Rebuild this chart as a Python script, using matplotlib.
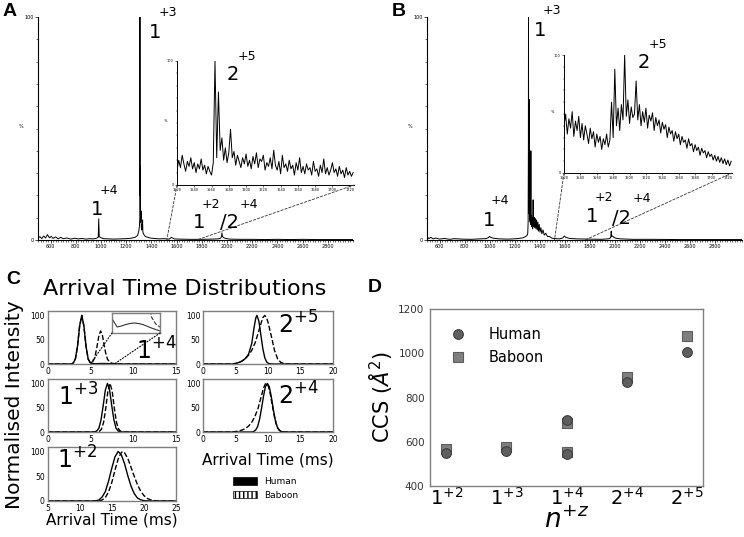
import numpy as np
import matplotlib
matplotlib.use('Agg')
import matplotlib.pyplot as plt
from matplotlib.patches import ConnectionPatch, Patch
from matplotlib.ticker import MultipleLocator

W, H = 744, 537

# --- A / B: mass spectra, (m/z, % intensity)
human_spec = [
    (500, 0.8), (515, 1.5), (530, 0.6), (545, 1.8), (560, 0.9), (575, 2.4), (590, 1.0),
    (605, 1.6), (620, 0.7), (640, 1.4), (660, 0.5), (680, 1.2), (700, 0.6), (730, 0.9),
    (760, 0.4), (790, 0.8), (820, 0.5), (850, 0.7), (880, 0.4), (910, 0.6), (940, 0.5),
    (965, 0.8), (978, 1.2), (982, 9.5), (986, 1.5), (1000, 1.0), (1020, 0.6), (1060, 0.5),
    (1100, 0.4), (1150, 0.5), (1200, 0.6), (1240, 0.8), (1270, 1.2), (1290, 2.0),
    (1300, 4.0), (1305, 6.0), (1308, 10.0), (1309, 100.0), (1310, 35.0), (1311, 20.0),
    (1312, 33.0), (1313, 15.0), (1314, 8.0), (1316, 10.0), (1318, 13.0), (1320, 6.0),
    (1323, 4.5), (1326, 7.0), (1328, 5.0), (1330, 9.0), (1332, 4.0), (1335, 3.0),
    (1340, 2.5), (1345, 2.0), (1355, 1.5), (1370, 1.2), (1390, 0.9), (1420, 0.7),
    (1460, 0.5), (1500, 0.6), (1540, 0.4), (1560, 1.2), (1580, 0.5), (1620, 0.4),
    (1700, 0.3), (1800, 0.3), (1880, 0.4), (1930, 0.5), (1950, 0.8), (1956, 1.5),
    (1960, 3.2), (1964, 1.6), (1975, 1.0), (1990, 0.7), (2020, 0.4), (2100, 0.3),
    (2200, 0.3), (2300, 0.2), (2400, 0.3), (2500, 0.2), (2600, 0.3), (2700, 0.2),
    (2800, 0.2), (2900, 0.2), (3000, 0.2),
]
baboon_spec = [
    (500, 1.5), (515, 0.6), (530, 1.2), (550, 0.5), (570, 0.9), (600, 0.4), (640, 0.7),
    (680, 0.3), (720, 0.6), (780, 0.4), (850, 0.3), (920, 0.5), (970, 0.6), (990, 1.0),
    (1000, 1.6), (1010, 1.2), (1030, 0.8), (1080, 0.5), (1150, 0.4), (1220, 0.6),
    (1270, 1.0), (1300, 2.0), (1306, 3.0), (1309, 8.0), (1311, 40.0), (1312, 100.0),
    (1313, 30.0), (1315, 12.0), (1317, 63.0), (1319, 14.0), (1321, 9.0), (1323, 12.0),
    (1325, 8.0), (1327, 11.0), (1329, 7.0), (1331, 40.0), (1333, 8.0), (1335, 11.0),
    (1337, 6.0), (1339, 10.0), (1341, 6.0), (1343, 9.0), (1345, 5.0), (1347, 8.0),
    (1349, 18.0), (1351, 6.0), (1354, 10.0), (1357, 6.0), (1360, 10.0), (1364, 5.5),
    (1368, 9.5), (1372, 5.0), (1377, 9.0), (1382, 4.5), (1387, 8.0), (1392, 4.0),
    (1398, 7.0), (1404, 3.5), (1411, 5.5), (1419, 2.8), (1428, 4.5), (1438, 2.2),
    (1450, 3.0), (1465, 1.5), (1480, 1.6), (1500, 0.8), (1530, 0.6), (1560, 0.5),
    (1585, 0.9), (1600, 1.8), (1610, 1.2), (1640, 0.7), (1700, 0.5), (1800, 0.4),
    (1900, 0.3), (1960, 0.6), (1970, 1.2), (1974, 4.0), (1977, 1.5), (1985, 1.8),
    (1995, 1.2), (2010, 0.8), (2050, 0.5), (2150, 0.3), (2300, 0.3), (2500, 0.2),
    (2700, 0.2), (2900, 0.2), (3020, 0.2),
]

# zoomed 2+5 region, one value every 2 m/z from 1520
inset_start, inset_step = 1520, 2
human_inset = [
    12, 20, 14, 24, 17, 11, 19, 15, 22, 13, 18,
    10, 17, 13, 21, 12, 16, 9, 15, 11, 8, 18,
    100, 22, 75, 28, 38, 20, 30, 18, 26, 45, 22,
    27, 16, 24, 19, 14, 22, 17, 25, 15, 20, 13,
    23, 17, 26, 14, 21, 19, 24, 12, 18, 15, 22,
    13, 28, 16, 12, 19, 9, 24, 14, 17, 11, 20,
    13, 16, 8, 18, 12, 22, 10, 15, 9, 17, 12,
    14, 8, 19, 11, 13, 7, 16, 10, 21, 9, 14,
    8, 12, 18, 10, 13, 7, 15, 9, 12, 6, 14,
    8, 11, 7, 10,
]
baboon_inset = [
    40, 50, 33, 46, 38, 52, 31, 44, 36, 48, 30,
    42, 28, 40, 33, 25, 38, 29, 35, 22, 33, 26,
    31, 20, 29, 24, 33, 22, 28,
    60, 30, 88, 40, 55, 36, 58, 45, 100, 48, 62, 42, 56, 47, 50, 78, 45, 58,
    40, 52, 43, 55, 38, 49, 44, 51, 36, 47, 40,
    45, 34, 43, 37, 41, 30, 39, 33, 36, 27, 35,
    29, 33, 24, 31, 26, 28, 21, 29, 23, 25, 18,
    24, 19, 22, 15, 21, 17, 19, 13, 18, 14, 16,
    11, 15, 10, 14, 9, 13, 8, 12, 7, 11, 6, 10,
]

# --- C: arrival time distributions, (ms, normalised intensity)
atd_1p4_human = [(0, 0), (2.8, 0), (3.0, 2), (3.25, 10), (3.5, 36), (3.75, 78), (4.0, 100),
                 (4.25, 78), (4.5, 36), (4.75, 10), (5.0, 2), (5.5, 0.6), (5.75, 0.7),
                 (6.0, 0.85), (6.25, 0.95), (6.5, 1.0), (6.75, 0.95), (7.0, 0.85),
                 (7.5, 0.5), (8.0, 0.2), (9.0, 0), (15, 0)]
atd_1p4_baboon = [(0, 0), (2.8, 0), (3.0, 2), (3.25, 10), (3.5, 36), (3.75, 78), (4.0, 100),
                  (4.25, 78), (4.5, 36), (4.75, 10), (5.0, 3), (5.25, 4), (5.5, 12),
                  (5.75, 33), (6.0, 58), (6.2, 68), (6.4, 60), (6.6, 40), (6.8, 22),
                  (7.0, 10), (7.25, 4), (7.5, 1.6), (7.75, 0.9), (8.0, 0.6), (8.5, 0.2),
                  (9.0, 0), (15, 0)]
atd_1p3_human = [(0, 0), (5.25, 0), (5.5, 0.4), (5.75, 2), (6.0, 8), (6.25, 25), (6.5, 54),
                 (6.75, 86), (7.0, 100), (7.25, 86), (7.5, 54), (7.75, 25), (8.0, 8),
                 (8.25, 2), (8.5, 0.4), (8.75, 0), (15, 0)]
atd_1p3_baboon = [(0, 0), (5.8, 0), (6.05, 1), (6.3, 6), (6.55, 20), (6.8, 49), (7.05, 84),
                  (7.3, 100), (7.55, 84), (7.8, 49), (8.05, 20), (8.3, 6), (8.55, 1.2),
                  (8.8, 0.2), (9.1, 0), (15, 0)]
atd_1p2_human = [(5, 0), (12.0, 0), (12.5, 0.3), (13, 2), (13.5, 8), (14, 19), (14.5, 40),
                 (15, 66), (15.5, 89), (16, 100), (16.5, 93), (17, 75), (17.5, 51),
                 (18, 30), (18.5, 15), (19, 6), (19.5, 2.5), (20, 0.8), (21, 0.1), (25, 0)]
atd_1p2_baboon = [(5, 0), (12.5, 0), (13, 0.3), (13.5, 2), (14, 7), (14.5, 18), (15, 37),
                  (15.5, 62), (16, 85), (16.5, 98), (16.75, 100), (17, 97), (17.5, 86),
                  (18, 68), (18.5, 50), (19, 33), (19.5, 20), (20, 11), (20.5, 5.5),
                  (21, 2.5), (21.5, 1), (22, 0.3), (22.5, 0), (25, 0)]
atd_2p5_human = [(0, 0), (4.5, 0), (5, 1), (5.5, 3), (6, 6), (6.5, 11), (7.0, 20), (7.5, 42),
                 (7.8, 70), (8.0, 86), (8.15, 96), (8.3, 100), (8.6, 88), (8.9, 60),
                 (9.2, 32), (9.5, 13), (9.8, 4), (10.1, 1), (10.5, 0.2), (11, 0), (20, 0)]
atd_2p5_baboon = [(0, 0), (4.5, 0), (5, 1), (5.5, 3), (6, 6), (6.5, 11), (7, 18), (7.5, 28),
                  (8, 43), (8.5, 64), (9, 87), (9.25, 96), (9.5, 100), (9.75, 96), (10, 86),
                  (10.5, 58), (11, 28), (11.5, 10), (12, 3), (12.5, 0.8), (13, 0.1),
                  (13.5, 0), (20, 0)]
atd_2p4_human = [(0, 0), (7.5, 0), (7.8, 1), (8.1, 4), (8.4, 11), (8.7, 26), (9.0, 48),
                 (9.3, 73), (9.6, 93), (9.9, 100), (10.2, 93), (10.5, 73), (10.8, 48),
                 (11.1, 26), (11.4, 11), (11.7, 4), (12.0, 1), (12.5, 0), (20, 0)]
atd_2p4_baboon = [(0, 0), (4.5, 0), (5, 1), (5.5, 2), (6, 4), (6.5, 7), (7, 12), (7.5, 20),
                  (8, 32), (8.5, 50), (9, 75), (9.3, 90), (9.6, 99), (9.75, 100), (10, 96),
                  (10.3, 82), (10.6, 60), (10.9, 37), (11.2, 19), (11.5, 8), (11.8, 3),
                  (12.1, 1), (12.5, 0.2), (13, 0), (20, 0)]

# --- D: collision cross sections
states = ['1+2', '1+3', '1+4', '2+4', '2+5']
state_labels = [r'$1^{+2}$', r'$1^{+3}$', r'$1^{+4}$', r'$2^{+4}$', r'$2^{+5}$']
human_state = ['1+2', '1+3', '1+4', '1+4', '2+4', '2+5']
human_ccs = [551, 560, 545, 698, 871, 1007]
baboon_state = ['1+2', '1+3', '1+4', '1+4', '2+4', '2+5']
baboon_ccs = [566, 575, 555, 686, 891, 1078]


def box(x0, y0, x1, y1):
    # pixel box (top-left origin) -> figure fraction rect
    return [x0 / W, 1 - y1 / H, (x1 - x0) / W, (y1 - y0) / H]


def at(x, y):
    return x / W, 1 - y / H


fig = plt.figure(figsize=(W / 100, H / 100), dpi=100)


def draw_spectrum(main_rect, inset_rect, spec, inset_vals, xlim, link_mz, notes):
    ax = fig.add_axes(main_rect)
    mz, inten = np.array(spec).T
    ax.plot(mz, inten, color='black', lw=0.7)
    ax.set_xlim(*xlim)
    ax.set_ylim(0, 100)
    for s in ('top', 'right'):
        ax.spines[s].set_visible(False)
    for s in ('left', 'bottom'):
        ax.spines[s].set_linewidth(0.8)
    ax.set_xticks(np.arange(600, 2801, 200))
    ax.xaxis.set_minor_locator(MultipleLocator(20))
    ax.set_yticks([0, 100])
    ax.yaxis.set_minor_locator(MultipleLocator(10))
    ax.tick_params(labelsize=3.5, length=2.2, width=0.5, pad=1)
    ax.tick_params(which='minor', length=1.2, width=0.4)
    ax.set_ylabel('%', rotation=0, fontsize=3.5, labelpad=2)

    ins = fig.add_axes(inset_rect)
    x = inset_start + inset_step * np.arange(len(inset_vals))
    ins.plot(x, inset_vals, color='black', lw=0.7)
    ins.set_xlim(1520, 1725)
    ins.set_ylim(0, 100)
    ins.patch.set_alpha(0)
    for s in ('top', 'right'):
        ins.spines[s].set_visible(False)
    for s in ('left', 'bottom'):
        ins.spines[s].set_linewidth(0.7)
    ins.set_xticks(np.arange(1520, 1721, 20))
    ins.xaxis.set_minor_locator(MultipleLocator(5))
    ins.set_yticks([0, 100])
    ins.yaxis.set_minor_locator(MultipleLocator(10))
    ins.tick_params(labelsize=2.5, length=1.5, width=0.4, pad=0.8)
    ins.tick_params(which='minor', length=0.8, width=0.3)
    ins.set_ylabel('%', rotation=0, fontsize=2.5, labelpad=1.5)

    for xa, m in zip((0, 1), link_mz):
        con = ConnectionPatch(xyA=(xa, 0), coordsA=ins.transAxes, xyB=(m, 0),
                              coordsB=ax.transData, ls=(0, (3, 2)), lw=0.6, color='#333333')
        fig.add_artist(con)

    for txt, px, py, size in notes:
        fig.text(*at(px, py), txt, fontsize=size, ha='center', va='center')


big, small = 14, 9
draw_spectrum(box(38, 17, 353, 240), box(177, 61, 354, 185), human_spec, human_inset,
              (500, 3000), (1522, 1760),
              [('1', 155, 32, big), ('+3', 168, 13, small), ('2', 233, 75, big),
               ('+5', 247, 56, small), ('1', 97, 210, big), ('+4', 109, 191, small),
               ('1', 199, 222, big), ('+2', 211, 204, small), ('/2', 230, 222, big),
               ('+4', 249, 204, small)])
draw_spectrum(box(427, 17, 742, 240), box(564, 55, 732, 173), baboon_spec, baboon_inset,
              (500, 3020), (1520, 1764),
              [('1', 540, 30, big), ('+3', 552, 11, small), ('2', 644, 63, big),
               ('+5', 658, 44, small), ('1', 489, 220, big), ('+4', 500, 200, small),
               ('1', 592, 217, big), ('+2', 604, 198, small), ('/2', 622, 218, big),
               ('+4', 642, 199, small)])

# --- C
grey = '#7f7f7f'


def atd_axes(rect, human, baboon, xlim, xticks, label, label_px):
    ax = fig.add_axes(rect)
    for curve, ls in ((human, '-'), (baboon, '--')):
        t, y = np.array(curve).T
        ax.plot(t, y, color='black', ls=ls, lw=1.0)
    ax.set_xlim(*xlim)
    ax.set_ylim(0, 109)
    ax.set_xticks(xticks)
    ax.set_yticks([0, 50, 100])
    ax.tick_params(labelsize=5.5, length=0, pad=2)
    for s in ax.spines.values():
        s.set_color(grey)
        s.set_linewidth(1.0)
    fig.text(*at(*label_px), label, fontsize=17, ha='center', va='center')
    return ax


ax14 = atd_axes(box(47.5, 311, 176, 364), atd_1p4_human, atd_1p4_baboon, (0, 15),
                [0, 5, 10, 15], r'$1^{+4}$', (156, 351))
atd_axes(box(47.5, 379, 176, 432), atd_1p3_human, atd_1p3_baboon, (0, 15),
         [0, 5, 10, 15], r'$1^{+3}$', (78, 397))
atd_axes(box(47.5, 447, 176, 501), atd_1p2_human, atd_1p2_baboon, (5, 25),
         [5, 10, 15, 20, 25], r'$1^{+2}$', (77, 460))
atd_axes(box(203, 311, 333, 364), atd_2p5_human, atd_2p5_baboon, (0, 20),
         [0, 5, 10, 15, 20], r'$2^{+5}$', (298, 325))
atd_axes(box(203, 379, 333, 432), atd_2p4_human, atd_2p4_baboon, (0, 20),
         [0, 5, 10, 15, 20], r'$2^{+4}$', (298, 396))

# magnified baseline of 1+4
zin = fig.add_axes(box(112, 313, 160, 333))
for curve, ls in ((atd_1p4_human, '-'), (atd_1p4_baboon, '--')):
    t, y = np.array(curve).T
    zin.plot(t, y, color='#333333', ls=ls, lw=0.8)
zin.set_xlim(5.2, 8.0)
zin.set_ylim(0, 2)
zin.set_xticks([])
zin.set_yticks([])
for s in zin.spines.values():
    s.set_color(grey)
    s.set_linewidth(1.0)
for xa, t0 in zip((0, 1), (5.0, 7.8)):
    fig.add_artist(ConnectionPatch(xyA=(xa, 0), coordsA=zin.transAxes, xyB=(t0, 0),
                                   coordsB=ax14.transData, ls=':', lw=0.8, color='black'))

fig.text(*at(185, 289), 'Arrival Time Distributions', fontsize=16, ha='center', va='center')
fig.text(*at(15, 405), 'Normalised Intensity', fontsize=14.5, rotation=90,
         ha='center', va='center')
fig.text(*at(112, 520), 'Arrival Time (ms)', fontsize=11, ha='center', va='center')
fig.text(*at(268, 460), 'Arrival Time (ms)', fontsize=11, ha='center', va='center')

leg_handles = [Patch(facecolor='black', edgecolor='black', lw=0.5),
               Patch(facecolor='white', edgecolor='black', hatch='||||', lw=0.5)]
fig.legend(leg_handles, ['Human', 'Baboon'], loc='upper left',
           bbox_to_anchor=at(225, 469), frameon=False, fontsize=6.5,
           handlelength=2.6, handleheight=0.9, labelspacing=0.5, handletextpad=0.8)

# --- D
axd = fig.add_axes(box(430, 309, 703, 486))
hx = [states.index(s) for s in human_state]
bx = [states.index(s) for s in baboon_state]
b_line, = axd.plot(bx, baboon_ccs, ls='none', marker='s', ms=6.5, mfc='#7f7f7f',
                   mec='#5c5c5c', mew=0.8, label='Baboon')
h_line, = axd.plot(hx, human_ccs, ls='none', marker='o', ms=7, mfc='#5e5e5e',
                   mec='#3e3e3e', mew=0.8, label='Human')
axd.set_xlim(-0.27, 4.27)
axd.set_ylim(400, 1200)
axd.set_xticks(range(len(states)))
axd.set_xticklabels(state_labels, fontsize=14)
axd.set_yticks([400, 600, 800, 1000, 1200])
axd.tick_params(axis='y', labelsize=7.5, labelcolor='#333333', length=0, pad=4)
axd.tick_params(axis='x', length=0, pad=1)
for s in axd.spines.values():
    s.set_color('#808080')
    s.set_linewidth(1.0)
axd.set_xlabel(r'$n^{+z}$', fontsize=19, labelpad=-1)
axd.set_ylabel(r'CCS ($\AA^2$)', fontsize=15, labelpad=2)
axd.legend([h_line, b_line], ['Human', 'Baboon'], loc='upper left',
           bbox_to_anchor=(0.0, 0.97), frameon=False, fontsize=10.5,
           handletextpad=1.1, labelspacing=0.55, numpoints=1)

# panel letters
for letter, px, py in (('A', 10, 12), ('B', 399, 11), ('C', 13, 279), ('D', 375, 288)):
    fig.text(*at(px, py), letter, fontsize=14, fontweight='bold',
             family='Liberation Sans', ha='center', va='center')

fig.savefig('out.png', dpi=100)
